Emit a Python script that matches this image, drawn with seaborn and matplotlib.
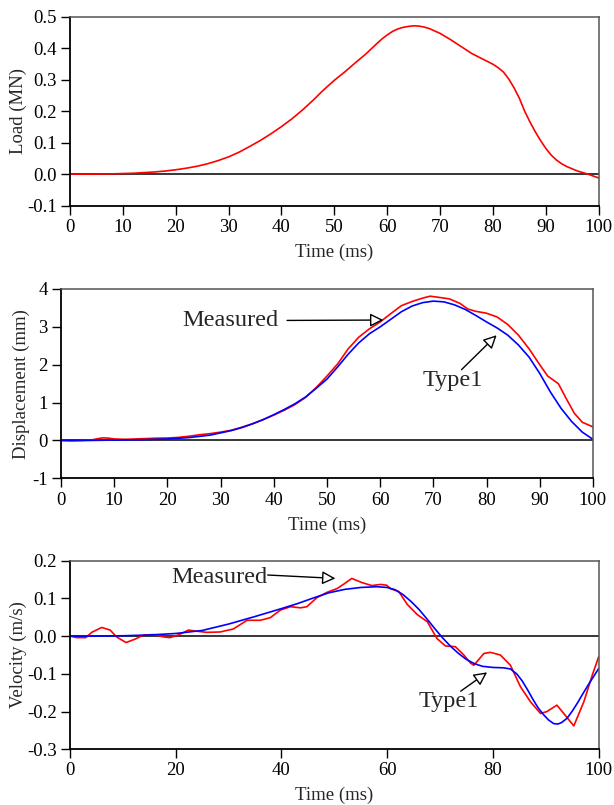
import numpy as np
import pandas as pd
import seaborn as sns
import matplotlib.pyplot as plt

# Load curve
load_t = [0, 2, 4, 6, 8, 10, 12, 14, 16, 18, 20, 22, 24, 26, 28, 30, 32, 34, 36, 38,
          40, 42, 44, 46, 48, 50, 52, 54, 56, 58, 59, 60, 61, 62, 63, 64, 65, 66, 67,
          68, 70, 72, 74, 76, 78, 80, 81, 82, 83, 84, 85, 86, 87, 88, 89, 90, 91, 92,
          93, 94, 95, 96, 97, 98, 99, 100]
load_val = [0, 0, 0, 0.0005, 0.001, 0.002, 0.003, 0.005, 0.007, 0.01, 0.014, 0.019,
            0.025, 0.033, 0.043, 0.055, 0.07, 0.088, 0.107, 0.128, 0.151, 0.176, 0.204,
            0.235, 0.268, 0.298, 0.325, 0.354, 0.382, 0.414, 0.429, 0.442, 0.453,
            0.461, 0.466, 0.469, 0.471, 0.47, 0.467, 0.462, 0.447, 0.427, 0.405, 0.383,
            0.366, 0.349, 0.338, 0.324, 0.302, 0.274, 0.241, 0.2, 0.166, 0.135, 0.107,
            0.082, 0.061, 0.045, 0.033, 0.024, 0.017, 0.01, 0.005, 0.0, -0.006, -0.012]

# Displacement - measured
disp_meas_t = [0, 2, 4, 6, 7, 8, 9, 10, 12, 14, 16, 18, 20, 22, 24, 26, 28, 30, 32, 34,
               36, 38, 40, 42, 44, 46, 48, 50, 52, 54, 56, 58, 60, 62, 64, 66, 68, 69.4,
               71, 73, 75, 76.5, 78, 80, 82, 84, 86, 88, 90, 91.5, 93.5, 95, 96.5, 98,
               100]
disp_meas = [0, -0.01, 0.0, 0.02, 0.05, 0.07, 0.06, 0.04, 0.03, 0.04, 0.05, 0.06,
             0.065, 0.08, 0.11, 0.15, 0.18, 0.22, 0.27, 0.35, 0.44, 0.55, 0.67, 0.8,
             0.95, 1.14, 1.4, 1.7, 2.02, 2.42, 2.73, 2.95, 3.13, 3.35, 3.56, 3.67, 3.76,
             3.81, 3.78, 3.74, 3.62, 3.47, 3.41, 3.36, 3.26, 3.06, 2.78, 2.42, 2.0, 1.7,
             1.5, 1.1, 0.72, 0.48, 0.36]

# Displacement - Type1
disp_type_t = [0, 5, 10, 15, 20, 24, 28, 30, 32, 34, 36, 38, 40, 42, 44, 46, 48, 50,
               52, 54, 56, 58, 60, 62, 64, 66, 68, 70, 72, 74, 76, 78, 80, 82, 84, 86,
               88, 90, 92, 94, 96, 98, 100]
disp_type = [0, 0, 0.01, 0.02, 0.04, 0.075, 0.14, 0.2, 0.26, 0.34, 0.44, 0.55, 0.68,
             0.82, 0.97, 1.15, 1.38, 1.62, 1.94, 2.28, 2.58, 2.82, 3.0, 3.2, 3.4, 3.55,
             3.64, 3.68, 3.66, 3.58, 3.46, 3.3, 3.13, 2.97, 2.78, 2.52, 2.2, 1.77, 1.28,
             0.85, 0.5, 0.22, 0.03]

# Velocity - measured
vel_meas_t = [0, 1.3, 3, 4.1, 6, 7.6, 8.8, 10.6, 12.3, 13.9, 15.8, 17.7, 18.9, 20.5,
              22.4, 24, 25.9, 28.4, 30.9, 33.5, 36, 37.9, 39.8, 41.7, 43.6, 44.8, 46.7,
              48.6, 50.5, 51.8, 53.3, 55.2, 57.1, 58.7, 59.9, 60.6, 62.2, 63.8, 65.7,
              67.6, 69.4, 71.0, 72.9, 74.5, 75.8, 76.4, 78.3, 79.5, 81.4, 83.3, 85.2,
              87.1, 89.0, 90.2, 92.1, 93.4, 95.3, 97.2, 98.8, 100]
vel_meas = [0, -0.004, -0.004, 0.01, 0.023, 0.016, -0.002, -0.017, -0.008, 0.003,
            0.004, -0.002, -0.004, 0.003, 0.016, 0.013, 0.01, 0.011, 0.019, 0.042,
            0.042, 0.049, 0.069, 0.078, 0.075, 0.078, 0.102, 0.116, 0.126, 0.138,
            0.153, 0.142, 0.134, 0.137, 0.135, 0.126, 0.118, 0.084, 0.057, 0.038,
            -0.006, -0.026, -0.028, -0.05, -0.072, -0.077, -0.046, -0.043, -0.05,
            -0.077, -0.134, -0.174, -0.205, -0.2, -0.183, -0.205, -0.238, -0.174,
            -0.103, -0.055]

# Velocity - Type1
vel_type_t = [0, 5, 10, 15, 20, 25, 30, 35, 40, 43, 46, 49, 52, 55, 58, 60, 61.5, 63,
              64.5, 66, 67.5, 69, 70.5, 72, 73.5, 75, 76.5, 78, 80, 82, 83.3, 84.5, 85.5,
              86.5, 87.5, 88.5, 89.5, 90.5, 91.5, 92.3, 93, 94, 95, 96, 97, 98, 99, 100]
vel_type = [0, 0, 0.001, 0.003, 0.007, 0.015, 0.032, 0.052, 0.073, 0.086, 0.101,
            0.115, 0.124, 0.129, 0.131, 0.129, 0.123, 0.11, 0.092, 0.071, 0.046, 0.02,
            -0.005, -0.027, -0.046, -0.062, -0.073, -0.08, -0.083, -0.084, -0.087,
            -0.1, -0.118, -0.141, -0.166, -0.189, -0.207, -0.222, -0.232, -0.233,
            -0.229, -0.218, -0.199, -0.177, -0.153, -0.13, -0.108, -0.086]

sns.set_style("ticks")
plt.rcParams["font.family"] = ["Liberation Serif", "DejaVu Serif"]
plt.rcParams["axes.unicode_minus"] = False

fig = plt.figure(figsize=(6.14, 8.05), dpi=100)
ax1 = fig.add_axes([0.114, 0.7445, 0.861, 0.2348])
ax2 = fig.add_axes([0.0993, 0.4058, 0.8664, 0.2352])
ax3 = fig.add_axes([0.114, 0.0692, 0.861, 0.2343])

sns.lineplot(x=load_t, y=load_val, ax=ax1, color="#ff0000", lw=1.2)
sns.lineplot(x=disp_meas_t, y=disp_meas, ax=ax2, color="#ff0000", lw=1.2)
sns.lineplot(x=disp_type_t, y=disp_type, ax=ax2, color="#0000ff", lw=1.2)
sns.lineplot(x=vel_meas_t, y=vel_meas, ax=ax3, color="#ff0000", lw=1.2)
sns.lineplot(x=vel_type_t, y=vel_type, ax=ax3, color="#0000ff", lw=1.2)

settings = [
    (ax1, (-0.1, 0.5), np.arange(-0.1, 0.51, 0.1), "{:.1f}", np.arange(0, 101, 10), "Load (MN)", -0.082),
    (ax2, (-1, 4), np.arange(-1, 5, 1), "{:.0f}", np.arange(0, 101, 10), "Displacement (mm)", -0.058),
    (ax3, (-0.3, 0.2), np.arange(-0.3, 0.21, 0.1), "{:.1f}", np.arange(0, 101, 20), "Velocity (m/s)", -0.082),
]
for ax, ylim, yticks, fmt, xticks, ylabel, ylx in settings:
    ax.axhline(0, color="black", lw=1.1, zorder=1)
    ax.set_xlim(0, 100)
    ax.set_ylim(*ylim)
    ax.set_yticks(yticks)
    ax.set_yticklabels([fmt.format(v + 0.0) for v in yticks])
    ax.set_xticks(xticks)
    ax.set_xticklabels([str(v) for v in xticks])
    ax.tick_params(direction="out", length=6.5, width=1, pad=3, labelsize=13.5, colors="black")
    ax.set_xlabel("Time (ms)", fontsize=13.5)
    ax.set_ylabel(ylabel, fontsize=13.5)
    ax.xaxis.set_label_coords(0.5, -0.2)
    ax.yaxis.set_label_coords(ylx, 0.5)
    for side in ["left", "bottom"]:
        ax.spines[side].set_color("black")
        ax.spines[side].set_linewidth(1.3)
    for side in ["top", "right"]:
        ax.spines[side].set_visible(True)
        ax.spines[side].set_color("#555555")
        ax.spines[side].set_linewidth(1.1)

arrow = dict(arrowstyle="-|>", fc="white", ec="black", lw=1, mutation_scale=20,
             shrinkA=0, shrinkB=0)

ax2.text(31.9, 3.16, "Measured", fontsize=17.5, ha="center", va="center")
ax2.annotate("", xy=(60.6, 3.18), xytext=(42.5, 3.17), arrowprops=arrow)
ax2.text(73.7, 1.59, "Type1", fontsize=17.5, ha="center", va="center")
ax2.annotate("", xy=(81.9, 2.78), xytext=(75.3, 1.87), arrowprops=arrow)

ax3.text(28.2, 0.155, "Measured", fontsize=17.5, ha="center", va="center")
ax3.annotate("", xy=(50.2, 0.153), xytext=(37.4, 0.162), arrowprops=arrow)
ax3.text(71.6, -0.174, "Type1", fontsize=17.5, ha="center", va="center")
ax3.annotate("", xy=(78.9, -0.096), xytext=(73.9, -0.146), arrowprops=arrow)

fig.savefig("out.png", dpi=100)
